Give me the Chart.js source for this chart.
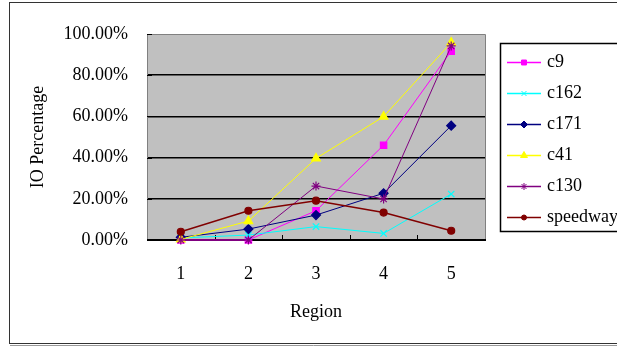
<!DOCTYPE html>
<html>
<head>
<meta charset="utf-8">
<script src="https://cdn.jsdelivr.net/npm/chart.js@4"></script>
<style>
  html, body { margin: 0; padding: 0; background: #fff; }
  #wrap { width: 617px; height: 347px; position: relative; }
</style>
</head>
<body>
<div id="wrap"><canvas id="ioChart"></canvas></div>
<script>
// --- DATA ---
const regions = ['1', '2', '3', '4', '5'];
const seriesNames = ['c9', 'c162', 'c171', 'c41', 'c130', 'speedway'];
const c9 = [0, 0, 14.2, 46.0, 91.7];
const c162 = [1.0, 2.4, 6.5, 3.2, 22.3];
const c171 = [1.3, 5.3, 12.1, 22.7, 55.5];
const c41 = [0.3, 9.2, 39.6, 59.9, 95.8];
const c130 = [0, 0, 26.2, 19.9, 94.2];
const speedway = [4.0, 14.2, 19.1, 13.3, 4.5];
const yTicks = [0, 20, 40, 60, 80, 100];

const FONT = "'Liberation Serif', 'Times New Roman', serif";

// --- STYLES ---
const styles = [
  { color: '#ff00ff', point: 'rect', radius: 4.5, width: 1 },
  { color: '#00ffff', point: 'crossRot', radius: 4.5, width: 1 },
  { color: '#000080', point: 'rectRot', radius: 4.5, width: 1 },
  { color: '#ffff00', point: 'triangle', radius: 5, width: 1 },
  { color: '#800080', point: 'star', radius: 4.5, width: 1 },
  { color: '#800000', point: 'circle', radius: 3.5, width: 1.5 }
];
const values = [c9, c162, c171, c41, c130, speedway];

const datasets = values.map((vals, i) => ({
  label: seriesNames[i],
  data: vals,
  borderColor: styles[i].color,
  backgroundColor: styles[i].color,
  borderWidth: styles[i].width,
  pointStyle: styles[i].point,
  pointRadius: styles[i].radius,
  pointBorderWidth: 1.2,
  pointBorderColor: styles[i].color,
  pointBackgroundColor: styles[i].color,
  tension: 0,
  clip: false,
  order: values.length - 1 - i // later series on top
}));

// --- PLUGINS ---
const frame = {
  id: 'frame',
  beforeDraw(chart) {
    const { ctx, chartArea: a } = chart;
    ctx.save();
    // outer chart border
    ctx.strokeStyle = '#333';
    ctx.lineWidth = 1;
    ctx.strokeRect(9.5, 2.5, 700, 341);
    ctx.strokeStyle = '#999';
    ctx.beginPath();
    ctx.moveTo(10, 345.5); ctx.lineTo(617, 345.5);
    ctx.stroke();
    // plot background
    ctx.fillStyle = '#c0c0c0';
    ctx.fillRect(a.left, a.top, a.right - a.left, a.bottom - a.top);
    ctx.restore();
  },
  beforeDatasetsDraw(chart) {
    const { ctx, chartArea: a, scales } = chart;
    ctx.save();
    ctx.strokeStyle = '#808080';
    ctx.lineWidth = 1;
    ctx.beginPath();
    ctx.moveTo(a.left + 0.5, a.bottom); ctx.lineTo(a.left + 0.5, a.top + 0.5);
    ctx.lineTo(a.right + 0.5, a.top + 0.5); ctx.lineTo(a.right + 0.5, a.bottom);
    ctx.stroke();
    // inward tick marks
    ctx.strokeStyle = '#000';
    ctx.beginPath();
    const xs = scales.x;
    for (let k = 1; k < regions.length; k++) {
      const bx = Math.round((xs.getPixelForValue(k - 1) + xs.getPixelForValue(k)) / 2) + 0.5;
      ctx.moveTo(bx, a.bottom); ctx.lineTo(bx, a.bottom - 5);
    }
    yTicks.forEach(v => {
      const y = Math.round(scales.y.getPixelForValue(v)) + 0.5;
      ctx.moveTo(a.left, y); ctx.lineTo(a.left + 5, y);
    });
    ctx.stroke();
    // black baseline
    ctx.lineWidth = 2;
    ctx.beginPath();
    ctx.moveTo(a.left, a.bottom); ctx.lineTo(a.right + 1, a.bottom);
    ctx.stroke();
    ctx.restore();
  }
};

const boxLegend = {
  id: 'boxLegend',
  afterDraw(chart) {
    const { ctx } = chart;
    ctx.save();
    ctx.strokeStyle = '#000';
    ctx.lineWidth = 1.5;
    ctx.strokeRect(500.5, 43.5, 200, 188);
    chart.data.datasets.forEach((ds, i) => {
      const y = 62 + i * 31;
      ctx.strokeStyle = ds.borderColor;
      ctx.lineWidth = 1.5;
      ctx.beginPath();
      ctx.moveTo(507, y + 0.5); ctx.lineTo(541, y + 0.5);
      ctx.stroke();
      ctx.fillStyle = ds.pointBackgroundColor;
      ctx.strokeStyle = ds.pointBorderColor;
      ctx.lineWidth = 1;
      Chart.helpers.drawPoint(ctx, {
        pointStyle: ds.pointStyle, radius: ds.pointRadius - 1, rotation: 0, borderWidth: 1
      }, 524, y + 0.5);
      ctx.fillStyle = '#000';
      ctx.font = '18px ' + FONT;
      ctx.textBaseline = 'middle';
      ctx.textAlign = 'left';
      ctx.fillText(ds.label, 547, y);
    });
    ctx.restore();
  }
};

// --- CHART ---
new Chart(document.getElementById('ioChart'), {
  type: 'line',
  data: { labels: regions, datasets: datasets },
  options: {
    responsive: true,
    maintainAspectRatio: false,
    animation: false,
    layout: { padding: { left: 0, top: 34, right: 132, bottom: 0 } },
    plugins: { legend: { display: false }, tooltip: { enabled: false } },
    scales: {
      x: {
        offset: true,
        grid: { display: false, drawTicks: false },
        border: { display: false },
        ticks: { color: '#000', padding: 23, font: { family: FONT, size: 18 } },
        title: { display: true, text: 'Region', color: '#000', padding: { top: 0, bottom: 24 }, font: { family: FONT, size: 18 } },
        afterFit(scale) { scale.height = 107; }
      },
      y: {
        min: 0, max: 100,
        afterBuildTicks(scale) { scale.ticks = yTicks.map(v => ({ value: v })); },
        grid: {
          drawTicks: false,
          color: ctx => ctx.tick && ctx.tick.value === 100 ? 'rgba(0,0,0,0)' : '#000',
          lineWidth: 1.5
        },
        border: { display: false },
        ticks: {
          color: '#000', padding: 19,
          font: { family: FONT, size: 18 },
          callback: v => v.toFixed(2) + '%'
        },
        title: { display: true, text: 'IO Percentage', color: '#000', padding: { top: 27, bottom: 0 }, font: { family: FONT, size: 18 } },
        afterFit(scale) { scale.width = 147; }
      }
    }
  },
  plugins: [frame, boxLegend]
});
</script>
</body>
</html>
